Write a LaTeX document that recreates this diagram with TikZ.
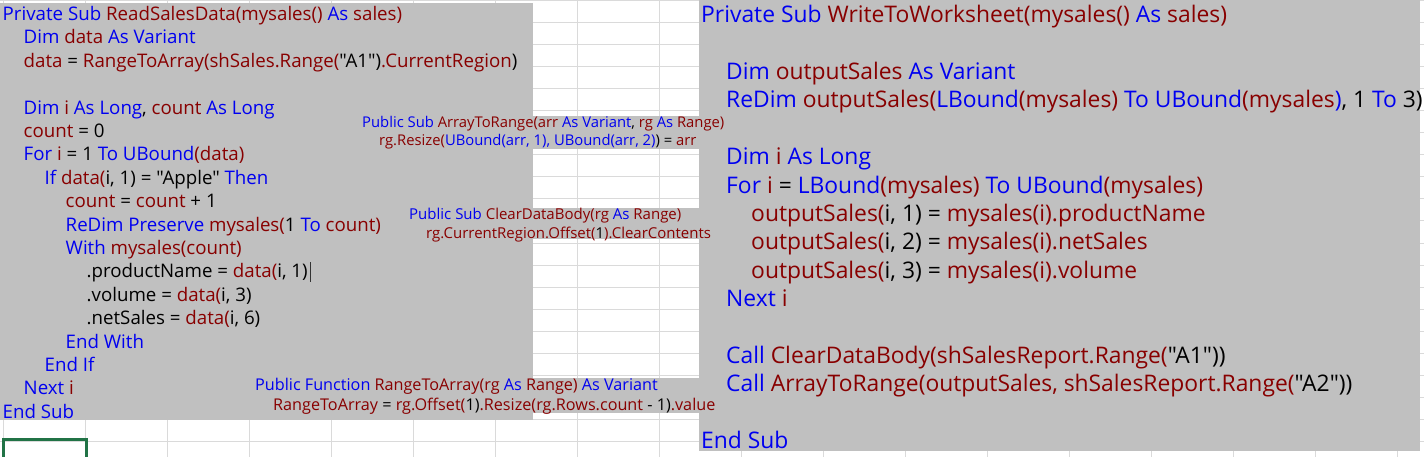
\documentclass[tikz,border=0pt]{standalone}
\usepackage{fontspec}
\setmainfont{Open Sans}[Ligatures=TeXOff]
\usepackage{xcolor}
\definecolor{vbkw}{RGB}{0,0,240}
\definecolor{vbid}{RGB}{136,0,0}
\definecolor{panel}{RGB}{192,192,192}
\definecolor{cellline}{RGB}{218,218,218}
\definecolor{selgreen}{RGB}{33,115,70}
\newcommand{\vbk}[1]{\textcolor{vbkw}{#1}}
\newcommand{\vbi}[1]{\textcolor{vbid}{#1}}

\begin{document}
\begin{tikzpicture}[x=1pt,y=-1pt,
    lcode/.style={anchor=base west,inner sep=0pt,font=\fontsize{18.7}{22}\selectfont},
    rcode/.style={anchor=base west,inner sep=0pt,font=\fontsize{22.85}{27}\selectfont},
    scode/.style={anchor=base west,inner sep=0pt,font=\fontsize{#1}{18}\selectfont}]
      \useasboundingbox (0,0) rectangle (1424,457);
      \clip (0,0) rectangle (1424,457);
      % sheet grid
      \foreach \c in {0,...,17}
        \draw[cellline] (3+82*\c,0) -- (3+82*\c,457);
      \foreach \r in {0,...,20}
        \draw[cellline] (0,0.7+22*\r) -- (1424,0.7+22*\r);
      \draw[selgreen,line width=3pt] (3.3,439) rectangle (86.5,475);
      % code windows
      \fill[panel] (0,3) rectangle (533,419.5);
      \fill[panel] (355,116) rectangle (699,149);
      \fill[panel] (405,208) rectangle (699,239);
      \fill[panel] (250,378) rectangle (699,413);
      \fill[panel] (699,0) rectangle (1420,451);
      % ReadSalesData
      \node[lcode](l1) at (2.5,20.5){\vbk{Private Sub} \vbi{ReadSalesData(mysales()} \vbk{As} \vbi{sales)}};
      \node[lcode](l2) at (23.5,43.9){\vbk{Dim} \vbi{data} \vbk{As Variant}};
      \node[lcode](l3) at (23.5,67.3){\vbi{data} = \vbi{RangeToArray(shSales.Range(}"A1")\vbi{.CurrentRegion})};
      \node[lcode](l5) at (23.5,114.1){\vbk{Dim} \vbi{i} \vbk{As Long}, \vbi{count} \vbk{As Long}};
      \node[lcode](l6) at (23.5,137.5){\vbi{count} = 0};
      \node[lcode](l7) at (23.5,160.9){\vbk{For} \vbi{i} = 1 \vbk{To UBound}\vbi{(data)}};
      \node[lcode](l8) at (44.5,184.3){\vbk{If} \vbi{data(}i, 1) = "Apple" \vbk{Then}};
      \node[lcode](l9) at (65.5,207.7){\vbi{count} = \vbi{count} + 1};
      \node[lcode](l10) at (65.5,231.1){\vbk{ReDim Preserve} \vbi{mysales(}1 \vbk{To} \vbi{count)}};
      \node[lcode](l11) at (65.5,254.5){\vbk{With} \vbi{mysales(count)}};
      \node[lcode](l12) at (86.5,277.9){.productName = \vbi{data(}i, 1)};
      \node[lcode](l13) at (86.5,301.3){.volume = \vbi{data(}i, 3)};
      \node[lcode](l14) at (86.5,324.7){.netSales = \vbi{data(}i, 6)};
      \node[lcode](l15) at (65.5,348.1){\vbk{End With}};
      \node[lcode](l16) at (44.5,371.5){\vbk{End If}};
      \node[lcode](l17) at (23.5,394.9){\vbk{Next} \vbi{i}};
      \node[lcode](l18) at (2.5,418.3){\vbk{End Sub}};
      \draw[black!80,line width=0.8pt] ([shift={(2,4)}]l12.base east) -- ++(0,-20);
      % ArrayToRange
      \node[scode=14.8](a1) at (362,128){\vbk{Public Sub} \vbi{ArrayToRange(arr} \vbk{As Variant}, \vbi{rg} \vbk{As} \vbi{Range)}};
      \node[scode=14.8](a2) at (379,146){\vbi{rg.Resize(}\vbk{UBound(arr, 1), UBound(arr, 2)}) = \vbi{arr}};
      % ClearDataBody
      \node[scode=15](b1) at (409,220){\vbk{Public Sub} \vbi{ClearDataBody(rg} \vbk{As} \vbi{Range)}};
      \node[scode=15](b2) at (426,238){\vbi{rg.CurrentRegion.Offset(}1\vbi{).ClearContents}};
      % RangeToArray
      \node[scode=16.2](c1) at (255,390.5){\vbk{Public Function} \vbi{RangeToArray(rg} \vbk{As} \vbi{Range)} \vbk{As Variant}};
      \node[scode=16.2](c2) at (273,410){\vbi{RangeToArray} = \vbi{rg.Offset(}1)\vbi{.Resize(rg.Rows.count} - 1)\vbi{.value}};
      % WriteToWorksheet
      \node[rcode](r1) at (701,22.7){\vbk{Private Sub} \vbi{WriteToWorksheet(mysales()} \vbk{As} \vbi{sales)}};
      \node[rcode](r3) at (726,79.5){\vbk{Dim} \vbi{outputSales} \vbk{As Variant}};
      \node[rcode](r4) at (726,107.9){\vbk{ReDim} \vbi{outputSales(}\vbk{LBound}\vbi{(mysales)} \vbk{To UBound}\vbi{(mysales}\vbk{)}, 1 \vbk{To} 3)};
      \node[rcode](r6) at (726,164.7){\vbk{Dim} \vbi{i} \vbk{As Long}};
      \node[rcode](r7) at (726,193.1){\vbk{For} \vbi{i} = \vbk{LBound}\vbi{(mysales)} \vbk{To UBound}\vbi{(mysales)}};
      \node[rcode](r8) at (751,221.5){\vbi{outputSales(}i, 1) = \vbi{mysales(i).productName}};
      \node[rcode](r9) at (751,249.9){\vbi{outputSales(}i, 2) = \vbi{mysales(i).netSales}};
      \node[rcode](r10) at (751,278.3){\vbi{outputSales(}i, 3) = \vbi{mysales(i).volume}};
      \node[rcode](r11) at (726,306.7){\vbk{Next} \vbi{i}};
      \node[rcode](r13) at (726,363.5){\vbk{Call} \vbi{ClearDataBody(shSalesReport.Range(}"A1"))};
      \node[rcode](r14) at (726,391.9){\vbk{Call} \vbi{ArrayToRange(outputSales, shSalesReport.Range(}"A2"))};
      \node[rcode](r16) at (701,448.5){\vbk{End Sub}};
    \end{tikzpicture}
\end{document}
